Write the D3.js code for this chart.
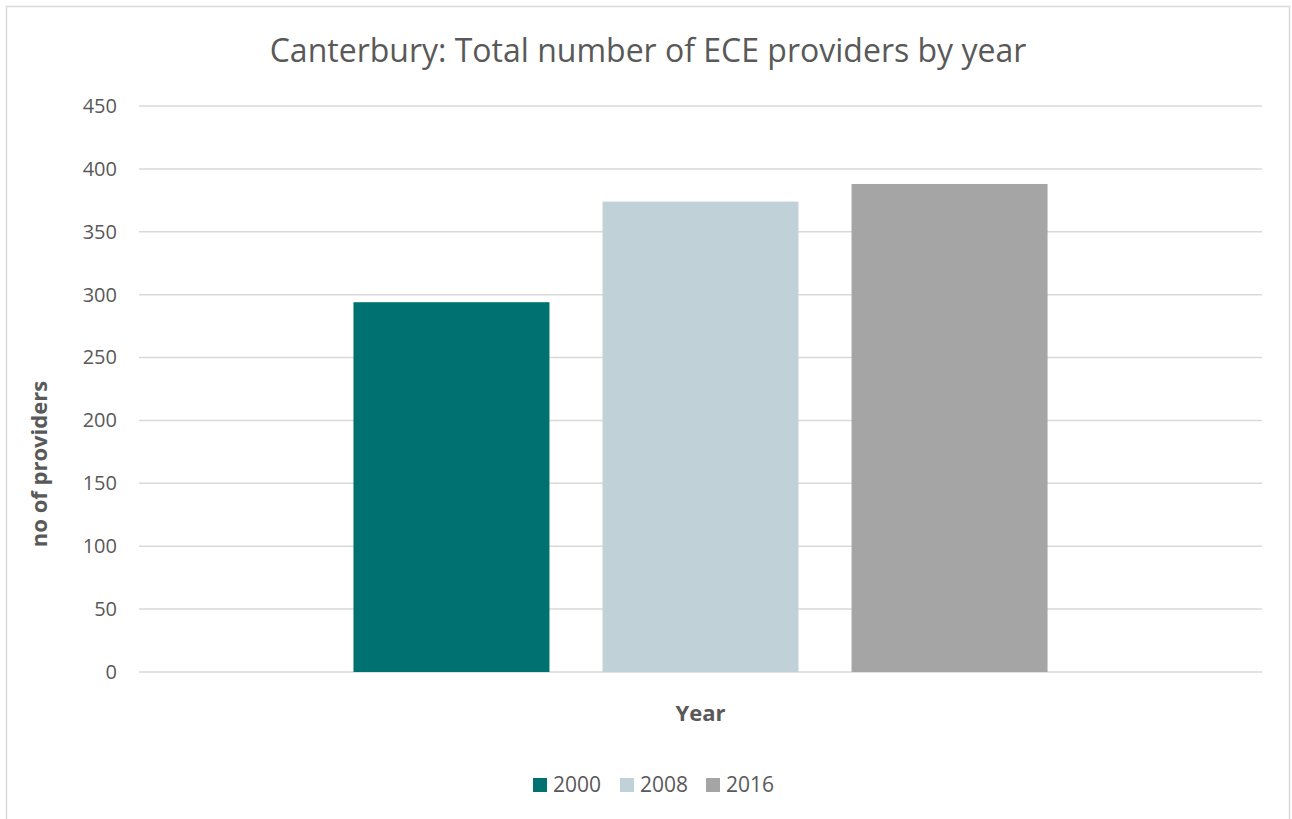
<!DOCTYPE html>
<html>
<head>
<meta charset="utf-8">
<script src="https://cdn.jsdelivr.net/npm/d3@7"></script>
<style>
  body { margin: 0; background: #fff; }
  svg { display: block; font-family: "Open Sans", sans-serif; }
</style>
</head>
<body>
<svg id="chart" width="1292" height="819"></svg>
<script>
// Data
const categories = [""];
const seriesNames = ["2000", "2008", "2016"];
const seriesValues = [294, 374, 388];
const seriesColors = ["#007171", "#c0d2d7", "#a5a5a5"];
const yTicks = [0, 50, 100, 150, 200, 250, 300, 350, 400, 450];

const svg = d3.select("#chart");
const width = +svg.attr("width");
const height = +svg.attr("height");

// chart border
svg.append("rect")
    .attr("x", 6.5).attr("y", 6.5)
    .attr("width", width - 9).attr("height", height + 10)
    .attr("fill", "#fff")
    .attr("stroke", "#d9d9d9")
    .attr("stroke-width", 1.5);

const margin = { top: 106, right: 30, bottom: 147, left: 139 };
const plotW = width - margin.left - margin.right;
const plotH = height - margin.top - margin.bottom;

const g = svg.append("g").attr("transform", `translate(${margin.left},${margin.top})`);

const y = d3.scaleLinear().domain([0, 450]).range([plotH, 0]);

const x0 = d3.scaleBand().domain(categories).range([0, plotW]).paddingInner(0).paddingOuter(0.309);
const x1 = d3.scaleBand().domain(seriesNames).range([0, x0.bandwidth()]).paddingInner(0.213);

// gridlines
g.append("g")
    .selectAll("line")
    .data(yTicks)
    .join("line")
    .attr("x1", 0).attr("x2", plotW)
    .attr("y1", d => y(d)).attr("y2", d => y(d))
    .attr("stroke", "#d9d9d9")
    .attr("stroke-width", 1.5);

// y axis labels
const yAxis = g.append("g")
    .call(d3.axisLeft(y).tickValues(yTicks).tickSize(0).tickPadding(22));
yAxis.select(".domain").remove();
yAxis.selectAll("text")
    .attr("fill", "#595959")
    .style("font-size", "20px")
    .style("font-family", "'Open Sans', sans-serif");

// bars
const data = seriesNames.map((s, i) => ({ series: s, value: seriesValues[i], color: seriesColors[i] }));
g.append("g")
    .attr("transform", `translate(${x0(categories[0])},0)`)
    .selectAll("rect")
    .data(data)
    .join("rect")
    .attr("x", d => x1(d.series))
    .attr("y", d => y(d.value))
    .attr("width", x1.bandwidth())
    .attr("height", d => y(0) - y(d.value))
    .attr("fill", d => d.color);

// title
svg.append("text")
    .attr("x", 648).attr("y", 62)
    .attr("text-anchor", "middle")
    .attr("fill", "#595959")
    .style("font-size", "32px")
    .text("Canterbury: Total number of ECE providers by year");

// axis titles
svg.append("text")
    .attr("x", margin.left + plotW / 2).attr("y", 721)
    .attr("text-anchor", "middle")
    .attr("fill", "#595959")
    .style("font-size", "22px")
    .style("font-weight", "bold")
    .text("Year");

svg.append("text")
    .attr("transform", "translate(47,464) rotate(-90)")
    .attr("text-anchor", "middle")
    .attr("fill", "#595959")
    .style("font-size", "22px")
    .style("font-weight", "bold")
    .text("no of providers");

// legend
const legendX = [533, 620, 706];
const legend = svg.append("g").selectAll("g")
    .data(data)
    .join("g")
    .attr("transform", (d, i) => `translate(${legendX[i]},778)`);
legend.append("rect")
    .attr("width", 14).attr("height", 14)
    .attr("fill", d => d.color);
legend.append("text")
    .attr("x", 20).attr("y", 14)
    .attr("fill", "#595959")
    .style("font-size", "21px")
    .text(d => d.series);
</script>
</body>
</html>
